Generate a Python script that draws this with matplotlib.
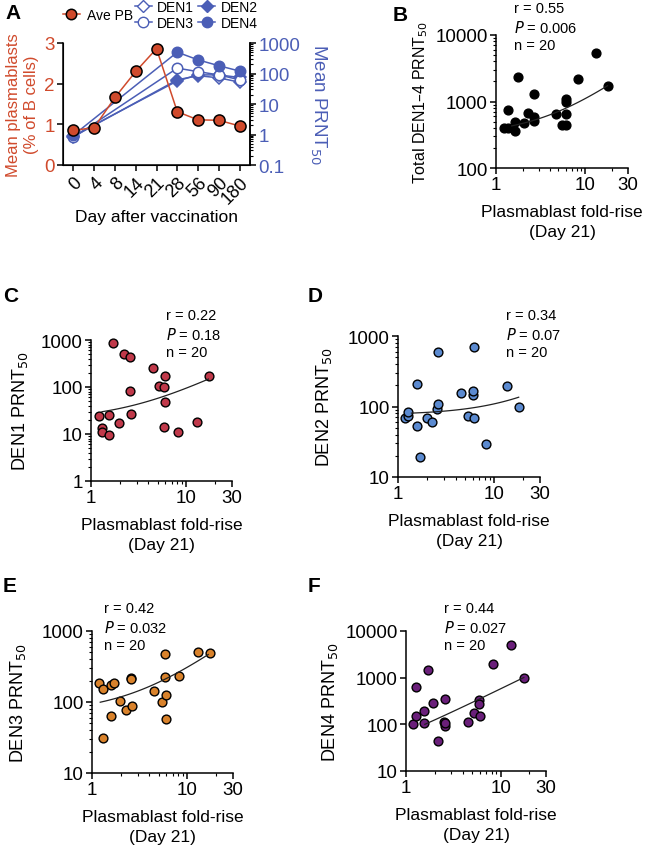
import numpy as np
import matplotlib
matplotlib.use("Agg")
import matplotlib.pyplot as plt
from matplotlib.ticker import LogLocator, NullFormatter
from matplotlib.lines import Line2D

plt.rcParams['font.family'] = ['Liberation Sans', 'DejaVu Sans']

RED = '#D04A2C'
BLUE = '#4B5EB6'

# ---- panel A: time course ----
days = ['0', '4', '8', '14', '21', '28', '56', '90', '180']
ave_pb = [0.85, 0.92, 1.66, 2.30, 2.86, 1.31, 1.11, 1.10, 0.96]
den_days = ['0', '28', '56', '90', '180']
den1 = [0.85, 62, 85, 72, 52]
den2 = [0.9, 57, 90, 90, 74]
den3 = [0.8, 150, 115, 90, 62]
den4 = [0.95, 500, 280, 180, 120]

# ---- panels B-F: fold-rise vs PRNT50 ----
b_x = [1.24, 1.35, 1.35, 1.62, 1.62, 1.78, 2.05, 2.29, 2.65, 2.65, 2.65, 4.64, 5.53, 6.1, 6.1, 6.1, 6.15, 8.35, 13.3, 17.7]
b_y = [394, 394, 750, 484, 363, 2370, 473, 668, 507, 575, 1290, 646, 447, 650, 1100, 1000, 447, 2160, 5300, 1720]
c_x = [1.2, 1.3, 1.3, 1.53, 1.55, 1.71, 1.96, 2.21, 2.55, 2.55, 2.6, 4.5, 5.19, 5.85, 5.93, 5.93, 5.8, 8.1, 13.0, 17.3]
c_y = [24.5, 13.2, 10.8, 25, 9.5, 863, 17, 512, 437, 82, 26, 254, 103, 100, 171, 47, 13.9, 10.8, 17.7, 174]
d_x = [1.18, 1.26, 1.26, 1.56, 1.58, 1.69, 1.99, 2.24, 2.53, 2.63, 2.6, 4.57, 5.36, 6.06, 6.06, 6.2, 6.15, 8.3, 13.5, 18.0]
d_y = [68, 74, 84, 53, 211, 19, 68, 61, 92, 108, 594, 153, 74, 145, 166, 68, 705, 29, 196, 100]
e_x = [1.19, 1.3, 1.3, 1.57, 1.57, 1.72, 1.96, 2.25, 2.55, 2.58, 2.63, 4.45, 5.38, 5.88, 5.88, 6.0, 6.0, 8.2, 12.9, 17.2]
e_y = [187, 154, 31, 175, 63, 185, 102, 76, 215, 210, 87, 141, 100, 477, 224, 124, 57, 236, 513, 487]
f_x = [1.19, 1.27, 1.27, 1.55, 1.56, 1.69, 1.94, 2.17, 2.51, 2.57, 2.57, 2.55, 4.46, 5.25, 5.91, 5.91, 6.0, 8.3, 12.9, 17.5]
f_y = [103, 148, 622, 105, 189, 1480, 284, 45, 112, 91, 346, 105, 112, 171, 340, 275, 150, 1950, 4950, 1000]

# fit lines (intercept, slope, x range)
b_fit = (310, 80, 1.5, 17.7)
c_fit = (20, 7.5, 1.3, 17.0)
d_fit = (76, 3.3, 1.38, 18.0)
e_fit = (70, 24, 1.22, 16.5)
f_fit = (10, 57, 1.58, 17.5)

W, H = 650, 853
fig = plt.figure(figsize=(W / 100, H / 100), dpi=100)


def rect(l, t, r, b):
    return [l / W, 1 - b / H, (r - l) / W, (b - t) / H]


def style(ax):
    for s in ['top', 'right']:
        ax.spines[s].set_visible(False)
    for s in ['left', 'bottom']:
        ax.spines[s].set_linewidth(1.1)
    ax.tick_params(which='major', length=4, width=1.1, labelsize=13.5, pad=2)
    ax.tick_params(which='minor', length=2.3, width=0.8)


# panel A
axA = fig.add_axes(rect(63, 44, 250, 166))
pos = np.arange(len(days))
axA.plot(pos, ave_pb, color=RED, lw=1.1, marker='o', ms=8, mfc=RED, mec='black', mew=1.1, zorder=5)
axA.set_xlim(-0.5, len(days) - 0.5)
axA.set_ylim(0, 3)
axA.set_yticks([0, 1, 2, 3])
axA.set_xticks(pos)
axA.set_xticklabels(days, rotation=45, ha='right', rotation_mode='anchor')
axA.spines['top'].set_visible(False)
for s in ['left', 'bottom', 'right']:
    axA.spines[s].set_linewidth(1.1)
axA.tick_params(which='major', length=4, width=1.1, labelsize=13.5, pad=2)
axA.tick_params(axis='y', labelcolor=RED)
axA.tick_params(axis='x', labelsize=13)
axA.set_ylabel('Mean plasmablasts\n(% of B cells)', color=RED, fontsize=12, labelpad=4, linespacing=1.2)
axA.set_xlabel('Day after vaccination', fontsize=12.5, labelpad=2)

axR = axA.twinx()
axR.set_yscale('log')
axR.set_ylim(0.1, 1000)
axR.set_yticks([0.1, 1, 10, 100, 1000])
axR.set_yticklabels(['0.1', '1', '10', '100', '1000'])
axR.yaxis.set_minor_locator(LogLocator(base=10, subs=np.arange(2, 10)))
axR.yaxis.set_minor_formatter(NullFormatter())
axR.spines['top'].set_visible(False)
axR.spines['right'].set_linewidth(1.1)
axR.tick_params(which='major', length=4, width=1.1, labelsize=13.5, pad=2, labelcolor=BLUE)
axR.tick_params(which='minor', length=2.3, width=0.8)
axR.set_ylabel('Mean PRNT$_{50}$', color=BLUE, fontsize=13.5, rotation=270, labelpad=20)
den_pos = [days.index(d) for d in den_days]
axR.plot(den_pos, den1, color=BLUE, lw=1.1, marker='D', ms=6, mfc='white', mec=BLUE, mew=1.1)
axR.plot(den_pos, den2, color=BLUE, lw=1.1, marker='D', ms=6, mfc=BLUE, mec=BLUE, mew=1.1)
axR.plot(den_pos, den3, color=BLUE, lw=1.1, marker='o', ms=7.5, mfc='white', mec=BLUE, mew=1.1)
axR.plot(den_pos, den4, color=BLUE, lw=1.1, marker='o', ms=7.5, mfc=BLUE, mec=BLUE, mew=1.1)
axA.set_zorder(axR.get_zorder() + 1)
axA.patch.set_visible(False)

h_pb = [Line2D([], [], color=RED, lw=1.1, marker='o', ms=7.5, mfc=RED, mec='black', mew=1.1)]
fig.legend(h_pb, ['Ave PB'], loc='center left', bbox_to_anchor=(56 / W, 1 - 16 / H),
           frameon=False, fontsize=10, handlelength=1.2, handletextpad=0.5, borderpad=0)
h_den = [Line2D([], [], color=BLUE, lw=1.1, marker='D', ms=6, mfc='white', mec=BLUE),
         Line2D([], [], color=BLUE, lw=1.1, marker='o', ms=7.5, mfc='white', mec=BLUE),
         Line2D([], [], color=BLUE, lw=1.1, marker='D', ms=6, mfc=BLUE, mec=BLUE),
         Line2D([], [], color=BLUE, lw=1.1, marker='o', ms=7.5, mfc=BLUE, mec=BLUE)]
fig.legend(h_den, ['DEN1', 'DEN3', 'DEN2', 'DEN4'], ncol=2, loc='center left',
           bbox_to_anchor=(128 / W, 1 - 16 / H), frameon=False, fontsize=10,
           handlelength=1.2, handletextpad=0.4, columnspacing=0.3, labelspacing=0.15, borderpad=0)


def scatter_panel(r, xs, ys, fit, color, ylim, yticks, ylabel, stats, stat_xy, ylfs=13, ylpad=8):
    ax = fig.add_axes(rect(*r))
    ax.set_xscale('log')
    ax.set_yscale('log')
    ax.scatter(xs, ys, s=40, c=color, edgecolors='black', linewidths=1.0, zorder=3, clip_on=False)
    a, b, x0, x1 = fit
    xx = np.linspace(x0, x1, 100)
    ax.plot(xx, a + b * xx, color='#222222', lw=0.9, zorder=4)
    ax.set_xlim(1, 30)
    ax.set_ylim(*ylim)
    ax.set_xticks([1, 10, 30])
    ax.set_xticklabels(['1', '10', '30'])
    ax.xaxis.set_minor_locator(LogLocator(base=10, subs=np.arange(2, 10)))
    ax.xaxis.set_minor_formatter(NullFormatter())
    ax.set_yticks(yticks)
    ax.set_yticklabels([str(t) for t in yticks])
    ax.yaxis.set_minor_locator(LogLocator(base=10, subs=np.arange(2, 10)))
    ax.yaxis.set_minor_formatter(NullFormatter())
    style(ax)
    ax.set_xlabel('Plasmablast fold-rise\n(Day 21)', fontsize=12.5, linespacing=1.35, labelpad=8)
    ax.set_ylabel(ylabel, fontsize=ylfs, labelpad=ylpad)
    r_, p_ = stats
    fig.text(stat_xy[0] / W, 1 - stat_xy[1] / H,
             'r = %s\n$P$ = %s\nn = 20' % (r_, p_), fontsize=10.5, va='top', ha='left', linespacing=1.3)
    return ax


scatter_panel((496, 36, 628, 169), b_x, b_y, b_fit, 'black', (100, 10000), [100, 1000, 10000],
              'Total DEN1\u20134 PRNT$_{50}$', ('0.55', '0.006'), (514, 2), ylfs=11.5, ylpad=4)
scatter_panel((91, 341, 232, 482), c_x, c_y, c_fit, '#C0394A', (1, 1000), [1, 10, 100, 1000],
              'DEN1 PRNT$_{50}$', ('0.22', '0.18'), (166, 309))
scatter_panel((398, 337, 540, 478), d_x, d_y, d_fit, '#5B8AD0', (10, 1000), [10, 100, 1000],
              'DEN2 PRNT$_{50}$', ('0.34', '0.07'), (506, 309), ylpad=10)
scatter_panel((92, 632, 233, 774), e_x, e_y, e_fit, '#D9822B', (10, 1000), [10, 100, 1000],
              'DEN3 PRNT$_{50}$', ('0.42', '0.032'), (104, 602), ylpad=10)
scatter_panel((406, 632, 546, 772), f_x, f_y, f_fit, '#6A1F7A', (10, 10000), [10, 100, 1000, 10000],
              'DEN4 PRNT$_{50}$', ('0.44', '0.027'), (444, 602), ylpad=4)

for letter, x, y in [('A', 5, 4), ('B', 393, 6), ('C', 3, 287), ('D', 308, 287), ('E', 3, 577), ('F', 308, 577)]:
    fig.text(x / W, 1 - y / H, letter, fontsize=15, fontweight='bold', va='top', ha='left')

fig.savefig('out.png', dpi=100)
